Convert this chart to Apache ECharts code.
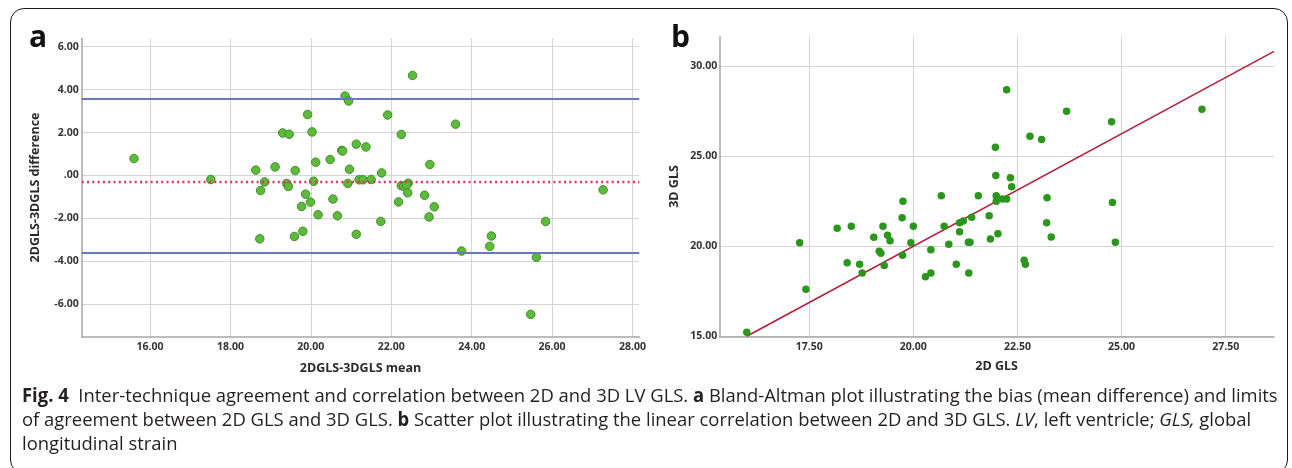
<!DOCTYPE html>
<html>
<head>
<meta charset="utf-8">
<script src="https://cdn.jsdelivr.net/npm/echarts@6/dist/echarts.min.js"></script>
<style>
  html, body { margin:0; padding:0; background:#fff; width:1292px; height:468px; overflow:hidden; }
  #frame { position:absolute; left:10px; top:8px; width:1278px; height:466px; border:1.5px solid #1a1a1a; border-radius:14px; box-sizing:border-box; }
  #chart { position:absolute; left:0; top:0; width:1292px; height:468px; }
  .plabel { position:absolute; font-family:'Open Sans', sans-serif; font-weight:bold; font-size:30px; line-height:30px; color:#111; }
  #caption { position:absolute; left:22px; top:383px; font-family:'Open Sans', sans-serif; font-size:19px; line-height:24px; color:#231f20; white-space:nowrap; transform-origin:0 0; }
  #caption div { white-space:nowrap; }
</style>
</head>
<body>
<div id="frame"></div>
<div id="chart"></div>
<div class="plabel" style="left:29px; top:21px;">a</div>
<div class="plabel" style="left:671px; top:21px;">b</div>
<div id="caption">
  <div id="cl1"><b>Fig. 4</b>&nbsp; Inter-technique agreement and correlation between 2D and 3D LV GLS. <b>a</b> Bland-Altman plot illustrating the bias (mean difference) and limits</div>
  <div>of agreement between 2D GLS and 3D GLS. <b>b</b> Scatter plot illustrating the linear correlation between 2D and 3D GLS. <i>LV</i>, left ventricle; <i>GLS,</i> global</div>
  <div>longitudinal strain</div>
</div>
<script>
// ---- Panel a: Bland-Altman data ----
const baMean = [15.60,17.51,18.63,18.75,18.85,18.73,19.11,19.30,19.46,19.40,19.44,19.61,19.92,19.87,19.77,19.99,19.80,19.59,20.03,20.12,20.07,20.18,
  22.53,20.85,20.94,21.91,23.60,22.25,21.13,21.37,20.77,20.79,20.48,22.96,20.96,21.76,21.20,21.30,21.50,20.92,22.25,22.31,22.42,22.38,22.41,22.83,27.27,
  20.55,22.18,23.07,20.66,22.94,21.74,25.84,21.13,24.49,24.45,23.75,25.61,25.47];
const baDiff = [0.79,-0.19,0.25,-0.70,-0.30,-2.95,0.40,1.98,1.92,-0.37,-0.51,0.23,2.84,-0.87,-1.44,-1.24,-2.60,-2.84,2.03,0.62,-0.27,-1.83,
  4.66,3.70,3.47,2.82,2.39,1.91,1.46,1.33,1.17,1.14,0.74,0.51,0.29,0.12,-0.20,-0.20,-0.19,-0.37,-0.48,-0.50,-0.36,-0.45,-0.81,-0.92,-0.67,
  -1.10,-1.23,-1.46,-1.88,-1.93,-2.14,-2.14,-2.74,-2.82,-3.30,-3.52,-3.81,-6.47];
const baBias = -0.31;
const baUpper = 3.59;
const baLower = -3.60;
const baXRange = [14.30, 28.17];
const baYRange = [-7.51, 6.39];
const baXTicks = [16, 18, 20, 22, 24, 26, 28];
const baYTicks = [-6, -4, -2, 0, 2, 4, 6];

// ---- Panel b: correlation data ----
const gls2d = [16.00,17.27,17.42,18.17,18.51,18.41,18.71,18.77,19.05,19.27,19.38,19.44,19.18,19.22,19.30,19.73,19.75,19.74,20.00,19.94,
  20.29,20.42,20.42,20.67,20.74,20.85,21.03,21.11,21.11,21.20,
  22.24,23.68,24.76,26.93,22.80,23.08,21.97,21.98,22.33,22.36,21.56,21.99,21.99,22.14,22.24,23.21,24.78,21.40,21.82,23.20,23.31,21.85,22.03,
  21.32,21.36,24.85,22.66,22.69,21.33];
const gls3d = [15.22,20.20,17.61,21.00,21.11,19.09,19.00,18.52,20.50,21.11,20.61,20.31,19.72,19.61,18.93,21.59,22.50,19.50,21.11,20.20,
  18.31,18.52,19.81,22.81,21.11,20.11,19.00,20.81,21.30,21.41,
  28.70,27.50,26.91,27.61,26.11,25.93,25.50,23.93,23.80,23.31,22.81,22.81,22.50,22.63,22.63,22.70,22.43,21.61,21.70,21.31,20.52,20.41,20.70,
  20.22,20.22,20.22,19.22,19.00,18.52];
const fitSlope = 1.25;
const fitIntercept = -5.0;
const corrXRange = [15.34, 28.66];
const corrYRange = [15.00, 31.64];
const corrXTicks = [17.5, 20, 22.5, 25, 27.5];
const corrYTicks = [15, 20, 25, 30];

// ---- build ----
const fmt = v => { if (Math.abs(v) < 1e-9) return '.00'; return v.toFixed(2); };
const nameStyle = { fontFamily:'Open Sans', fontWeight:'bold', fontSize:12.5, color:'#2a2a2a' };
function valueAxis(gridIndex, range, ticks, extra) {
  return Object.assign({
    type:'value', gridIndex, min:range[0], max:range[1],
    axisLine:{ show:true, onZero:false, lineStyle:{ color:'#a6a6a6', width:1.5 } },
    axisTick:{ show:false, customValues:ticks },
    axisLabel:{ customValues:ticks, formatter:fmt, color:'#333', fontFamily:'Open Sans', fontWeight:'bold', fontSize:10.5 },
    splitLine:{ show:true, lineStyle:{ color:'#d4d4d4', width:1 } },
    nameLocation:'middle', nameTextStyle:nameStyle
  }, extra);
}
function withLabelMargin(ax, m) { ax.axisLabel.margin = m; return ax; }

const baPoints = baMean.map((m, i) => [m, baDiff[i]]);
const corrPoints = gls2d.map((x, i) => [x, gls3d[i]]);
const fitX0 = Math.max(corrXRange[0], (corrYRange[0] - fitIntercept) / fitSlope);
const fitX1 = corrXRange[1];
const fitLine = [[fitX0, fitSlope * fitX0 + fitIntercept], [fitX1, fitSlope * fitX1 + fitIntercept]];

const chart = echarts.init(document.getElementById('chart'), null, { renderer:'canvas' });
chart.setOption({
  animation:false,
  grid:[
    { left:81.7, top:38.3, width:557.6, height:298.4, containLabel:false },
    { left:719.3, top:36.7, width:554.7, height:299.6, containLabel:false }
  ],
  xAxis:[
    withLabelMargin(valueAxis(0, baXRange, baXTicks, { name:'2DGLS-3DGLS mean', nameGap:25 }), 5),
    withLabelMargin(valueAxis(1, corrXRange, corrXTicks, { name:'2D GLS', nameGap:24 }), 5)
  ],
  yAxis:[
    withLabelMargin(valueAxis(0, baYRange, baYTicks, { name:'2DGLS-3DGLS difference', nameRotate:90, nameGap:40 }), 3),
    withLabelMargin(valueAxis(1, corrYRange, corrYTicks, { name:'3D GLS', nameRotate:90, nameGap:38 }), 2)
  ],
  series:[
    {
      type:'scatter', xAxisIndex:0, yAxisIndex:0, data:baPoints, symbolSize:8.5,
      itemStyle:{ color:'#5dba3b', borderColor:'#3f8e28', borderWidth:1, opacity:1 },
      markLine:{
        silent:true, symbol:['none','none'], label:{ show:false }, animation:false,
        data:[
          { yAxis:baUpper, lineStyle:{ color:'#6879ba', width:2, type:'solid' } },
          { yAxis:baLower, lineStyle:{ color:'#6879ba', width:2, type:'solid' } },
          { yAxis:baBias, lineStyle:{ color:'#e0345f', width:2.3, type:[2,3.3] } }
        ]
      },
      z:3
    },
    {
      type:'line', xAxisIndex:1, yAxisIndex:1, data:fitLine, showSymbol:false, silent:true,
      lineStyle:{ color:'#b3203c', width:1.6 }, z:2
    },
    {
      type:'scatter', xAxisIndex:1, yAxisIndex:1, data:corrPoints, symbolSize:7.5,
      itemStyle:{ color:'#2a961c', opacity:1 }, z:3
    }
  ]
});

// fit caption width to reference line width
(function(){
  const cap = document.getElementById('caption');
  const l1 = document.getElementById('cl1');
  const w = l1.scrollWidth;
  const target = 1256;
  cap.style.transform = 'scaleX(' + (target / w) + ')';
})();
</script>
</body>
</html>
